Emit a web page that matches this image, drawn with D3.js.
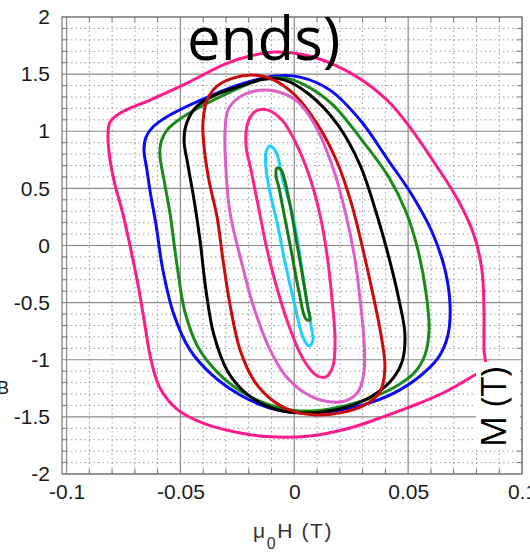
<!DOCTYPE html>
<html><head><meta charset="utf-8">
<script src="https://cdn.jsdelivr.net/npm/d3@7/dist/d3.min.js"></script>
<style>body{margin:0;background:#fff;} svg{display:block}</style>
</head><body>
<svg id="c" width="530" height="553"></svg>
<script>
// ---- data ----
const xTicks = [-0.1, -0.05, 0, 0.05, 0.1];
const xTickLabels = ["-0.1", "-0.05", "0", "0.05", "0.1"];
const yTicks = [-2, -1.5, -1, -0.5, 0, 0.5, 1, 1.5, 2];
const yTickLabels = ["-2", "-1.5", "-1", "-0.5", "0", "0.5", "1", "1.5", "2"];

const loopPinkOuter = [[-0.0818,0.967],[-0.0809,1.080],[-0.0757,1.168],[-0.0634,1.273],[-0.0480,1.413],[-0.0304,1.588],[-0.0195,1.658],[-0.0085,1.693],[0.0047,1.667],[0.0179,1.579],[0.0297,1.448],[0.0420,1.247],[0.0517,1.010],[0.0622,0.704],[0.0719,0.398],[0.0789,0.092],[0.0824,-0.214],[0.0833,-0.564],[0.0833,-0.914],[0.0838,-1.072],[0.0785,-1.142],[0.0653,-1.291],[0.0508,-1.413],[0.0390,-1.500],[0.0245,-1.597],[0.0069,-1.667],[-0.0107,-1.675],[-0.0260,-1.632],[-0.0392,-1.562],[-0.0511,-1.439],[-0.0590,-1.247],[-0.0629,-1.002],[-0.0656,-0.696],[-0.0686,-0.346],[-0.0722,0.004],[-0.0757,0.311],[-0.0787,0.529],[-0.0809,0.748]];
const loopBlue = [[-0.0647,0.661],[-0.0660,0.836],[-0.0651,0.949],[-0.0621,1.037],[-0.0546,1.142],[-0.0370,1.308],[-0.0217,1.422],[-0.0085,1.483],[0.0025,1.474],[0.0157,1.360],[0.0289,1.098],[0.0412,0.748],[0.0517,0.442],[0.0605,0.118],[0.0662,-0.214],[0.0684,-0.521],[0.0675,-0.783],[0.0640,-0.958],[0.0574,-1.107],[0.0464,-1.264],[0.0332,-1.378],[0.0179,-1.448],[0.0025,-1.465],[-0.0107,-1.422],[-0.0238,-1.308],[-0.0361,-1.133],[-0.0458,-0.914],[-0.0528,-0.608],[-0.0577,-0.214],[-0.0607,0.179],[-0.0634,0.486]];
const loopGreen = [[-0.0546,0.284],[-0.0572,0.573],[-0.0590,0.792],[-0.0585,0.906],[-0.0559,1.010],[-0.0502,1.107],[-0.0414,1.212],[-0.0282,1.343],[-0.0151,1.448],[-0.0041,1.465],[0.0047,1.404],[0.0166,1.238],[0.0297,0.923],[0.0412,0.608],[0.0491,0.293],[0.0543,-0.039],[0.0578,-0.407],[0.0592,-0.739],[0.0574,-0.958],[0.0530,-1.107],[0.0442,-1.238],[0.0310,-1.352],[0.0157,-1.430],[0.0025,-1.448],[-0.0107,-1.395],[-0.0230,-1.282],[-0.0335,-1.115],[-0.0423,-0.888],[-0.0480,-0.582],[-0.0515,-0.171]];
const loopBlack = [[-0.0414,0.048],[-0.0440,0.398],[-0.0467,0.704],[-0.0484,0.923],[-0.0471,1.080],[-0.0427,1.220],[-0.0348,1.317],[-0.0238,1.395],[-0.0129,1.457],[-0.0041,1.448],[0.0069,1.317],[0.0192,1.054],[0.0289,0.704],[0.0359,0.293],[0.0416,-0.109],[0.0460,-0.477],[0.0486,-0.783],[0.0473,-1.019],[0.0420,-1.194],[0.0310,-1.352],[0.0179,-1.439],[0.0025,-1.465],[-0.0098,-1.422],[-0.0203,-1.308],[-0.0291,-1.107],[-0.0353,-0.783],[-0.0388,-0.389]];
const loopRed = [[-0.0339,0.249],[-0.0375,0.573],[-0.0397,0.879],[-0.0401,1.080],[-0.0383,1.273],[-0.0339,1.395],[-0.0269,1.465],[-0.0186,1.492],[-0.0098,1.457],[0.0003,1.317],[0.0104,1.054],[0.0188,0.731],[0.0253,0.354],[0.0302,-0.039],[0.0346,-0.433],[0.0381,-0.783],[0.0398,-1.072],[0.0376,-1.282],[0.0310,-1.395],[0.0201,-1.465],[0.0091,-1.483],[-0.0010,-1.448],[-0.0098,-1.352],[-0.0173,-1.194],[-0.0238,-0.914],[-0.0282,-0.521],[-0.0313,-0.127]];
const loopOrchid = [[-0.0282,0.284],[-0.0300,0.661],[-0.0304,1.010],[-0.0291,1.185],[-0.0247,1.290],[-0.0173,1.352],[-0.0085,1.352],[0.0012,1.264],[0.0091,1.054],[0.0170,0.678],[0.0227,0.267],[0.0267,-0.127],[0.0289,-0.477],[0.0306,-0.827],[0.0306,-1.107],[0.0280,-1.282],[0.0223,-1.361],[0.0135,-1.361],[0.0047,-1.291],[-0.0041,-1.133],[-0.0116,-0.871],[-0.0181,-0.521],[-0.0234,-0.127]];
const loopPinkInner = [[-0.0212,0.879],[-0.0203,1.080],[-0.0168,1.177],[-0.0116,1.185],[-0.0054,1.098],[0.0007,0.897],[0.0069,0.591],[0.0113,0.267],[0.0144,-0.083],[0.0166,-0.477],[0.0179,-0.827],[0.0170,-1.054],[0.0139,-1.150],[0.0095,-1.133],[0.0034,-0.975],[-0.0028,-0.678],[-0.0080,-0.346],[-0.0124,0.004],[-0.0159,0.354],[-0.0190,0.661]];
const loopCyan = [[-0.0124,0.678],[-0.0124,0.818],[-0.0107,0.871],[-0.0080,0.818],[-0.0050,0.573],[-0.0010,0.293],[0.0021,-0.039],[0.0047,-0.389],[0.0073,-0.696],[0.0082,-0.827],[0.0065,-0.879],[0.0038,-0.801],[-0.0001,-0.494],[-0.0041,-0.144],[-0.0076,0.206],[-0.0107,0.468]];
const loopGreenInner = [[-0.0080,0.608],[-0.0076,0.678],[-0.0058,0.661],[-0.0023,0.398],[0.0007,0.066],[0.0038,-0.284],[0.0060,-0.547],[0.0069,-0.652],[0.0051,-0.643],[0.0021,-0.407],[-0.0014,-0.039],[-0.0045,0.276],[-0.0067,0.503]];

const loops = [
  {points: loopPinkOuter, color: "#ff1a8c"},
  {points: loopBlue, color: "#0a0af5"},
  {points: loopGreen, color: "#1a8a1a"},
  {points: loopBlack, color: "#000000"},
  {points: loopRed, color: "#cc0a0a"},
  {points: loopOrchid, color: "#dc5ec8"},
  {points: loopPinkInner, color: "#ff2288"},
  {points: loopCyan, color: "#1ccfff"},
  {points: loopGreenInner, color: "#157a15"}
];

// ---- layout ----
const L = 62, R = 522, T = 17, B = 474;
const x = d3.scaleLinear().domain([-0.102, 0.1]).range([L, R]);
const y = d3.scaleLinear().domain([-2, 2]).range([B, T]);
const svg = d3.select("#c");
svg.append("rect").attr("width", 530).attr("height", 553).attr("fill", "#fff");

svg.append("defs").append("clipPath").attr("id", "clip")
  .append("rect").attr("x", L).attr("y", T).attr("width", R - L).attr("height", B - T);

const grid = svg.append("g");
const xMinor = d3.range(-100, 101, 10).map(v => v / 1000).filter(v => Math.abs(Math.round(v * 1000) % 50) !== 0);
const yMinor = d3.range(-20, 21, 1).map(v => v / 10).filter(v => Math.abs(Math.round(v * 10) % 5) !== 0);
grid.selectAll(".xm").data(xMinor).join("line")
  .attr("x1", d => x(d)).attr("x2", d => x(d)).attr("y1", T).attr("y2", B)
  .attr("stroke", "#999").attr("stroke-width", 1).attr("stroke-dasharray", "1.5,3");
grid.selectAll(".ym").data(yMinor).join("line")
  .attr("y1", d => y(d)).attr("y2", d => y(d)).attr("x1", L).attr("x2", R)
  .attr("stroke", "#999").attr("stroke-width", 1).attr("stroke-dasharray", "1.5,3");
grid.selectAll(".xM").data(xTicks).join("line")
  .attr("x1", d => x(d)).attr("x2", d => x(d)).attr("y1", T).attr("y2", B)
  .attr("stroke", "#8a8a8a").attr("stroke-width", 1.2);
grid.selectAll(".yM").data(yTicks).join("line")
  .attr("y1", d => y(d)).attr("y2", d => y(d)).attr("x1", L).attr("x2", R)
  .attr("stroke", "#8a8a8a").attr("stroke-width", 1.2);
// small tick marks inside the frame
grid.selectAll(".ytl").data(yMinor).join("line")
  .attr("y1", d => y(d)).attr("y2", d => y(d)).attr("x1", L).attr("x2", L + 5)
  .attr("stroke", "#777");
grid.selectAll(".ytr").data(yMinor).join("line")
  .attr("y1", d => y(d)).attr("y2", d => y(d)).attr("x1", R - 5).attr("x2", R)
  .attr("stroke", "#777");
grid.selectAll(".xtb").data(xMinor).join("line")
  .attr("x1", d => x(d)).attr("x2", d => x(d)).attr("y1", B - 5).attr("y2", B)
  .attr("stroke", "#777");
grid.selectAll(".xtt").data(xMinor).join("line")
  .attr("x1", d => x(d)).attr("x2", d => x(d)).attr("y1", T).attr("y2", T + 5)
  .attr("stroke", "#777");

svg.append("rect").attr("x", L).attr("y", T).attr("width", R - L).attr("height", B - T)
  .attr("fill", "none").attr("stroke", "#777").attr("stroke-width", 1.2);

// ---- curves ----
const line = d3.line().x(d => x(d[0])).y(d => y(d[1])).curve(d3.curveCatmullRomClosed.alpha(0.5));
const cg = svg.append("g").attr("clip-path", "url(#clip)");
cg.selectAll("path").data(loops).join("path")
  .attr("d", d => line(d.points)).attr("fill", "none")
  .attr("stroke", d => d.color).attr("stroke-width", 3).attr("stroke-linejoin", "round");

// ---- axes ----
const fontTick = "'Liberation Sans', Arial, sans-serif";
const xAxis = svg.append("g").attr("transform", `translate(0,${B})`)
  .call(d3.axisBottom(x).tickValues(xTicks).tickFormat((d, i) => xTickLabels[i]).tickSize(0).tickPadding(10));
const yAxis = svg.append("g").attr("transform", `translate(${L},0)`)
  .call(d3.axisLeft(y).tickValues(yTicks).tickFormat((d, i) => yTickLabels[i]).tickSize(0).tickPadding(12));
[xAxis, yAxis].forEach(g => {
  g.select(".domain").remove();
  g.selectAll("text").attr("font-family", fontTick).attr("font-size", 21).attr("fill", "#1a1a1a");
});

// axis label
const xl = svg.append("text").attr("x", 253).attr("y", 538)
  .attr("font-family", fontTick).attr("font-size", 21).attr("letter-spacing", 1.6).attr("fill", "#333");
xl.append("tspan").text("μ");
xl.append("tspan").attr("font-size", 16).attr("dy", 11).text("0");
xl.append("tspan").attr("dy", -11).text("H (T)");

svg.append("text").attr("x", 9).attr("y", 394).attr("text-anchor", "end")
  .attr("font-family", fontTick).attr("font-size", 18).attr("fill", "#222").text("B");

// big overlaid texts
svg.append("text").attr("x", 187).attr("y", 60)
  .attr("font-family", "'Open Sans', 'Noto Sans', sans-serif").attr("font-size", 60).attr("fill", "#000").text("ends)");

svg.append("rect").attr("x", 476).attr("y", 362).attr("width", 44).attr("height", 88).attr("fill", "#fff");
svg.append("text").attr("transform", "translate(506,407) rotate(-90)").attr("text-anchor", "middle")
  .attr("font-family", "'Open Sans', 'Noto Sans', sans-serif").attr("font-size", 35).attr("fill", "#000").text("M (T)");
</script>
</body></html>
